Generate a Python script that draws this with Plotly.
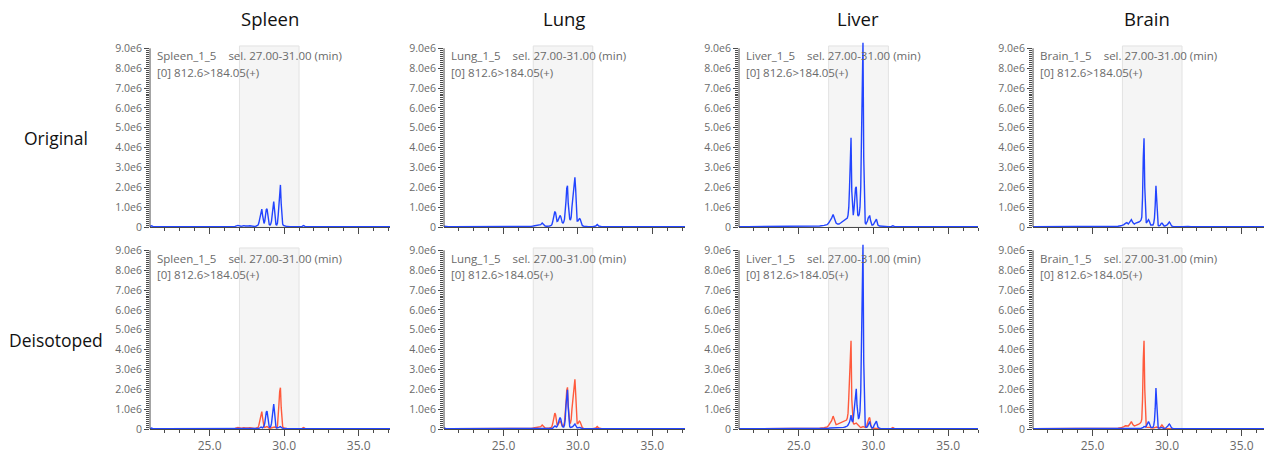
import plotly.graph_objects as go

# ---------------- data ----------------
tissues = ["Spleen", "Lung", "Liver", "Brain"]
row_labels = ["Original", "Deisotoped"]
sample_names = ["Spleen_1_5", "Lung_1_5", "Liver_1_5", "Brain_1_5"]
sel_text = "sel. 27.00-31.00 (min)"
mrm_text = "[0] 812.6>184.05(+)"
sel_window = [27.0, 31.0]

x_ticks = [25, 30, 35]
x_tick_labels = ["25.0", "30.0", "35.0"]
y_ticks = [0, 1, 2, 3, 4, 5, 6, 7, 8, 9]
y_tick_labels = ["0", "1.0e6", "2.0e6", "3.0e6", "4.0e6", "5.0e6", "6.0e6", "7.0e6", "8.0e6", "9.0e6"]

# retention time (min)
time = [21.0, 21.1, 21.2, 21.3, 21.6, 22.0, 23.0, 24.0, 25.0, 26.0,
        26.4, 26.7, 26.9, 27.0, 27.1, 27.2, 27.3, 27.4, 27.5, 27.6,
        27.7, 27.8, 27.9, 28.0, 28.1, 28.2, 28.25, 28.3, 28.35, 28.4,
        28.45, 28.5, 28.55, 28.6, 28.65, 28.7, 28.75, 28.8, 28.85, 28.9,
        28.95, 29.0, 29.05, 29.1, 29.15, 29.2, 29.25, 29.3, 29.35, 29.4,
        29.45, 29.5, 29.55, 29.6, 29.65, 29.7, 29.75, 29.8, 29.85, 29.9,
        29.95, 30.0, 30.05, 30.1, 30.15, 30.2, 30.25, 30.3, 30.4, 30.5,
        30.7, 31.0, 31.2, 31.3, 31.4, 31.6, 32.0, 33.0, 34.0, 35.0,
        36.0, 37.5]

# intensities in units of 1e6
spleen_original = [0.02, 0.06, 0.03, 0.02, 0.02, 0.02, 0.02, 0.02, 0.02, 0.02,
                   0.02, 0.03, 0.08, 0.04, 0.04, 0.05, 0.07, 0.05, 0.04, 0.05,
                   0.06, 0.04, 0.03, 0.03, 0.04, 0.06, 0.10, 0.20, 0.40, 0.65,
                   0.85, 0.90, 0.60, 0.30, 0.18, 0.30, 0.65, 0.88, 0.92, 0.60,
                   0.30, 0.12, 0.10, 0.15, 0.30, 0.70, 1.15, 1.28, 0.90, 0.35,
                   0.12, 0.10, 0.20, 0.60, 1.30, 1.95, 2.12, 1.20, 0.45, 0.15,
                   0.08, 0.06, 0.05, 0.04, 0.03, 0.03, 0.02, 0.02, 0.02, 0.02,
                   0.02, 0.02, 0.03, 0.07, 0.03, 0.02, 0.02, 0.02, 0.02, 0.02,
                   0.02, 0.02]
spleen_deiso_red = [0.01, 0.02, 0.01, 0.01, 0.01, 0.01, 0.01, 0.01, 0.01, 0.01,
                    0.01, 0.03, 0.08, 0.04, 0.04, 0.05, 0.07, 0.05, 0.04, 0.05,
                    0.06, 0.04, 0.03, 0.03, 0.04, 0.05, 0.08, 0.18, 0.38, 0.62,
                    0.83, 0.88, 0.58, 0.25, 0.10, 0.08, 0.10, 0.12, 0.12, 0.10,
                    0.06, 0.04, 0.04, 0.05, 0.06, 0.08, 0.10, 0.12, 0.10, 0.08,
                    0.05, 0.06, 0.15, 0.55, 1.25, 1.90, 2.08, 1.10, 0.40, 0.12,
                    0.07, 0.05, 0.04, 0.03, 0.02, 0.02, 0.02, 0.02, 0.01, 0.01,
                    0.01, 0.01, 0.03, 0.07, 0.03, 0.01, 0.01, 0.01, 0.01, 0.01,
                    0.01, 0.01]
spleen_deiso_blue = [0.01, 0.05, 0.02, 0.01, 0.01, 0.01, 0.01, 0.01, 0.01, 0.01,
                     0.01, 0.01, 0.01, 0.01, 0.01, 0.01, 0.01, 0.01, 0.01, 0.01,
                     0.01, 0.01, 0.01, 0.01, 0.01, 0.01, 0.02, 0.03, 0.05, 0.08,
                     0.10, 0.08, 0.06, 0.10, 0.15, 0.30, 0.62, 0.85, 0.90, 0.62,
                     0.30, 0.10, 0.08, 0.13, 0.28, 0.68, 1.12, 1.26, 0.88, 0.32,
                     0.10, 0.05, 0.05, 0.06, 0.08, 0.11, 0.12, 0.08, 0.05, 0.03,
                     0.02, 0.02, 0.03, 0.05, 0.03, 0.02, 0.01, 0.01, 0.01, 0.01,
                     0.01, 0.01, 0.01, 0.01, 0.01, 0.01, 0.01, 0.01, 0.01, 0.01,
                     0.01, 0.01]

lung_original = [0.04, 0.02, 0.01, 0.01, 0.01, 0.01, 0.01, 0.01, 0.01, 0.02,
                 0.02, 0.03, 0.04, 0.05, 0.06, 0.07, 0.10, 0.08, 0.12, 0.20,
                 0.12, 0.05, 0.04, 0.04, 0.05, 0.08, 0.12, 0.25, 0.50, 0.72,
                 0.78, 0.72, 0.45, 0.28, 0.30, 0.40, 0.50, 0.58, 0.52, 0.30,
                 0.22, 0.20, 0.25, 0.40, 0.70, 1.30, 1.95, 2.08, 1.20, 0.45,
                 0.40, 0.35, 0.50, 1.00, 1.50, 1.55, 2.10, 2.50, 1.90, 0.80,
                 0.30, 0.30, 0.38, 0.42, 0.40, 0.25, 0.12, 0.07, 0.04, 0.03,
                 0.02, 0.02, 0.05, 0.13, 0.05, 0.02, 0.01, 0.01, 0.01, 0.01,
                 0.01, 0.01]
lung_deiso_red = [0.02, 0.01, 0.01, 0.01, 0.01, 0.01, 0.01, 0.01, 0.01, 0.01,
                  0.02, 0.03, 0.04, 0.05, 0.06, 0.07, 0.10, 0.08, 0.12, 0.20,
                  0.12, 0.05, 0.04, 0.04, 0.05, 0.08, 0.12, 0.25, 0.50, 0.75,
                  0.80, 0.72, 0.42, 0.22, 0.20, 0.28, 0.35, 0.40, 0.35, 0.20,
                  0.15, 0.15, 0.20, 0.35, 0.70, 1.30, 1.95, 2.10, 1.20, 0.42,
                  0.30, 0.30, 0.48, 1.00, 1.50, 1.55, 2.05, 2.50, 1.80, 0.75,
                  0.28, 0.28, 0.36, 0.40, 0.36, 0.22, 0.10, 0.06, 0.03, 0.02,
                  0.02, 0.02, 0.05, 0.13, 0.05, 0.02, 0.01, 0.01, 0.01, 0.01,
                  0.01, 0.01]
lung_deiso_blue = [0.05, 0.02, 0.01, 0.01, 0.01, 0.01, 0.01, 0.01, 0.01, 0.01,
                   0.01, 0.01, 0.01, 0.01, 0.01, 0.01, 0.01, 0.01, 0.01, 0.01,
                   0.01, 0.01, 0.01, 0.01, 0.01, 0.01, 0.02, 0.04, 0.08, 0.12,
                   0.15, 0.14, 0.10, 0.12, 0.20, 0.35, 0.48, 0.58, 0.50, 0.28,
                   0.15, 0.10, 0.10, 0.20, 0.50, 1.20, 1.85, 1.98, 1.10, 0.35,
                   0.12, 0.08, 0.08, 0.10, 0.12, 0.15, 0.22, 0.25, 0.18, 0.10,
                   0.06, 0.06, 0.08, 0.10, 0.08, 0.05, 0.03, 0.02, 0.01, 0.01,
                   0.01, 0.01, 0.01, 0.01, 0.01, 0.01, 0.01, 0.01, 0.01, 0.01,
                   0.01, 0.01]

liver_original = [0.02, 0.03, 0.02, 0.02, 0.02, 0.02, 0.02, 0.02, 0.03, 0.04,
                  0.05, 0.08, 0.12, 0.20, 0.30, 0.45, 0.63, 0.40, 0.20, 0.15,
                  0.15, 0.20, 0.25, 0.30, 0.35, 0.40, 0.45, 0.60, 1.00, 2.00,
                  3.60, 4.50, 1.80, 0.65, 0.60, 0.90, 1.50, 1.95, 2.03, 1.20,
                  0.60, 0.55, 0.65, 1.00, 2.00, 4.50, 8.00, 9.30, 3.50, 0.60,
                  0.20, 0.15, 0.20, 0.30, 0.45, 0.55, 0.58, 0.35, 0.15, 0.10,
                  0.10, 0.12, 0.20, 0.30, 0.38, 0.40, 0.25, 0.10, 0.05, 0.04,
                  0.03, 0.02, 0.03, 0.06, 0.03, 0.02, 0.01, 0.01, 0.01, 0.01,
                  0.01, 0.01]
liver_deiso_red = [0.01, 0.02, 0.01, 0.01, 0.01, 0.01, 0.01, 0.01, 0.02, 0.03,
                   0.04, 0.07, 0.10, 0.18, 0.28, 0.42, 0.65, 0.40, 0.22, 0.25,
                   0.28, 0.30, 0.32, 0.35, 0.40, 0.45, 0.55, 0.80, 1.60, 3.00,
                   4.00, 4.45, 1.50, 0.40, 0.30, 0.25, 0.25, 0.28, 0.30, 0.25,
                   0.20, 0.15, 0.12, 0.10, 0.08, 0.08, 0.10, 0.12, 0.10, 0.08,
                   0.08, 0.10, 0.15, 0.30, 0.45, 0.55, 0.58, 0.30, 0.10, 0.05,
                   0.04, 0.03, 0.03, 0.03, 0.03, 0.03, 0.02, 0.02, 0.02, 0.02,
                   0.02, 0.02, 0.03, 0.07, 0.03, 0.02, 0.01, 0.01, 0.01, 0.01,
                   0.01, 0.01]
liver_deiso_blue = [0.01, 0.01, 0.01, 0.01, 0.01, 0.01, 0.01, 0.01, 0.01, 0.01,
                    0.01, 0.02, 0.03, 0.04, 0.05, 0.05, 0.06, 0.05, 0.05, 0.05,
                    0.05, 0.06, 0.07, 0.08, 0.10, 0.12, 0.15, 0.20, 0.25, 0.35,
                    0.50, 0.70, 0.45, 0.35, 0.50, 0.90, 1.50, 1.95, 2.03, 1.20,
                    0.60, 0.50, 0.60, 0.90, 1.90, 4.40, 7.80, 9.30, 3.40, 0.55,
                    0.15, 0.08, 0.08, 0.12, 0.20, 0.32, 0.38, 0.20, 0.08, 0.05,
                    0.06, 0.10, 0.20, 0.30, 0.38, 0.40, 0.25, 0.10, 0.04, 0.02,
                    0.02, 0.01, 0.01, 0.01, 0.01, 0.01, 0.01, 0.01, 0.01, 0.01,
                    0.01, 0.01]

brain_original = [0.02, 0.02, 0.01, 0.01, 0.01, 0.01, 0.01, 0.01, 0.02, 0.02,
                  0.03, 0.04, 0.06, 0.08, 0.12, 0.18, 0.22, 0.15, 0.25, 0.37,
                  0.22, 0.15, 0.20, 0.22, 0.25, 0.30, 0.35, 0.50, 1.50, 3.50,
                  4.47, 2.00, 0.30, 0.20, 0.25, 0.32, 0.37, 0.30, 0.15, 0.10,
                  0.10, 0.08, 0.10, 0.20, 0.45, 1.10, 2.08, 1.40, 0.35, 0.08,
                  0.05, 0.06, 0.10, 0.18, 0.20, 0.15, 0.08, 0.05, 0.05, 0.06,
                  0.08, 0.10, 0.15, 0.22, 0.25, 0.20, 0.10, 0.05, 0.03, 0.02,
                  0.02, 0.02, 0.03, 0.05, 0.03, 0.02, 0.01, 0.01, 0.01, 0.01,
                  0.01, 0.01]
brain_deiso_red = [0.01, 0.01, 0.01, 0.01, 0.01, 0.01, 0.01, 0.01, 0.01, 0.02,
                   0.03, 0.04, 0.06, 0.08, 0.12, 0.16, 0.15, 0.15, 0.25, 0.37,
                   0.22, 0.15, 0.18, 0.20, 0.25, 0.30, 0.35, 0.50, 1.50, 3.50,
                   4.45, 2.00, 0.25, 0.10, 0.08, 0.08, 0.10, 0.10, 0.08, 0.06,
                   0.05, 0.05, 0.05, 0.06, 0.08, 0.10, 0.12, 0.10, 0.08, 0.06,
                   0.05, 0.06, 0.10, 0.16, 0.20, 0.15, 0.08, 0.05, 0.03, 0.02,
                   0.02, 0.02, 0.02, 0.02, 0.02, 0.02, 0.02, 0.02, 0.02, 0.02,
                   0.02, 0.02, 0.03, 0.05, 0.03, 0.02, 0.01, 0.01, 0.01, 0.01,
                   0.01, 0.01]
brain_deiso_blue = [0.01, 0.01, 0.01, 0.01, 0.01, 0.01, 0.01, 0.01, 0.01, 0.01,
                    0.01, 0.01, 0.01, 0.01, 0.01, 0.01, 0.02, 0.02, 0.02, 0.02,
                    0.02, 0.02, 0.02, 0.02, 0.03, 0.03, 0.04, 0.05, 0.06, 0.08,
                    0.12, 0.10, 0.10, 0.15, 0.25, 0.32, 0.37, 0.30, 0.15, 0.10,
                    0.08, 0.06, 0.08, 0.18, 0.42, 1.05, 2.06, 1.35, 0.30, 0.06,
                    0.04, 0.04, 0.06, 0.08, 0.08, 0.06, 0.04, 0.03, 0.03, 0.05,
                    0.08, 0.10, 0.15, 0.22, 0.25, 0.20, 0.10, 0.05, 0.03, 0.02,
                    0.01, 0.01, 0.01, 0.01, 0.01, 0.01, 0.01, 0.01, 0.01, 0.01,
                    0.01, 0.01]

original_series = [spleen_original, lung_original, liver_original, brain_original]
deiso_red_series = [spleen_deiso_red, lung_deiso_red, liver_deiso_red, brain_deiso_red]
deiso_blue_series = [spleen_deiso_blue, lung_deiso_blue, liver_deiso_blue, brain_deiso_blue]

for s in original_series + deiso_red_series + deiso_blue_series:
    assert len(s) == len(time), len(s)

# ---------------- styling / layout ----------------
W, H = 1264, 454
BLUE = "#2244ff"
RED = "#ff5a3c"
AXIS = "#4a4a4a"
TXT = "#6a6a6a"
FONT = "Open Sans"

col_px = [(150, 390), (444, 685), (739, 978), (1033, 1264)]
x_ranges = [[21, 37.1], [21, 37.2], [21, 37.0], [21, 36.5]]
row_zero_px = [227, 429]
px_per_unit = 19.85
y_top = 9.3

fig = go.Figure()
layout = {}
shapes = []
annotations = []

minor_y = [round(v * 0.1, 1) for v in range(1, 90) if v % 10 != 0]
minor_x = [22, 23, 24, 26, 27, 28, 29, 31, 32, 33, 34, 36, 37]

for r in range(2):
    y0_px = row_zero_px[r]
    ytop_px = y0_px - y_top * px_per_unit
    ydom = [(H - y0_px) / H, (H - ytop_px) / H]
    for c in range(4):
        i = r * 4 + c + 1
        xa = "x" if i == 1 else f"x{i}"
        ya = "y" if i == 1 else f"y{i}"
        xname = "xaxis" if i == 1 else f"xaxis{i}"
        yname = "yaxis" if i == 1 else f"yaxis{i}"
        xdom = [col_px[c][0] / W, min(col_px[c][1] / W, 1.0)]

        if r == 0:
            fig.add_trace(go.Scatter(x=time, y=original_series[c], mode="lines",
                                     line=dict(color=BLUE, width=1.4),
                                     xaxis=xa, yaxis=ya, showlegend=False, hoverinfo="skip"))
        else:
            fig.add_trace(go.Scatter(x=time, y=deiso_red_series[c], mode="lines",
                                     line=dict(color=RED, width=1.4),
                                     xaxis=xa, yaxis=ya, showlegend=False, hoverinfo="skip"))
            fig.add_trace(go.Scatter(x=time, y=deiso_blue_series[c], mode="lines",
                                     line=dict(color=BLUE, width=1.4),
                                     xaxis=xa, yaxis=ya, showlegend=False, hoverinfo="skip"))

        layout[xname] = dict(
            domain=xdom, range=x_ranges[c], anchor=ya, automargin=False,
            showgrid=False, zeroline=False, showline=True, linecolor=AXIS, linewidth=1,
            tickmode="array", tickvals=x_ticks,
            ticktext=x_tick_labels if r == 1 else ["", "", ""],
            ticks="outside", ticklen=6, tickcolor=AXIS, tickwidth=1,
            tickfont=dict(family=FONT, size=12, color=TXT),
            minor=dict(tickmode="array", tickvals=minor_x, ticks="outside",
                       ticklen=3, tickcolor=AXIS, tickwidth=1, showgrid=False),
            fixedrange=True,
        )
        layout[yname] = dict(
            domain=ydom, range=[0, y_top], anchor=xa, automargin=False,
            showgrid=False, zeroline=False, showline=False,
            tickmode="array", tickvals=y_ticks, ticktext=y_tick_labels,
            ticks="outside", ticklen=5, tickcolor=AXIS, tickwidth=1,
            tickfont=dict(family=FONT, size=10.5, color=TXT),
            minor=dict(tickmode="array", tickvals=minor_y, ticks="outside",
                       ticklen=3, tickcolor=AXIS, tickwidth=1, showgrid=False),
            fixedrange=True,
        )
        # selection window band
        shapes.append(dict(type="rect", xref=xa, yref=ya,
                           x0=sel_window[0], x1=sel_window[1], y0=0, y1=9.12,
                           fillcolor="#f5f5f5", line=dict(color="#e2e2e2", width=1),
                           layer="below"))
        # y axis line (0 .. 9.0e6)
        shapes.append(dict(type="line", xref=f"{xa} domain", yref=ya,
                           x0=0, x1=0, y0=0, y1=9,
                           line=dict(color=AXIS, width=1), layer="above"))
        # panel texts
        annotations.append(dict(
            xref="paper", yref="paper", x=(col_px[c][0] + 5) / W,
            y=(H - (y0_px - 171)) / H, xanchor="left", yanchor="middle",
            text=sample_names[c] + "\u00a0" * 4 + sel_text, showarrow=False,
            font=dict(family=FONT, size=11.5, color=TXT)))
        annotations.append(dict(
            xref="paper", yref="paper", x=(col_px[c][0] + 5) / W,
            y=(H - (y0_px - 154.5)) / H, xanchor="left", yanchor="middle",
            text=mrm_text, showarrow=False,
            font=dict(family=FONT, size=11.5, color=TXT)))

title_x = [270, 564, 858, 1147]
for c in range(4):
    annotations.append(dict(xref="paper", yref="paper", x=title_x[c] / W, y=(H - 19) / H,
                            xanchor="center", yanchor="middle", text=tissues[c],
                            showarrow=False, font=dict(family=FONT, size=18.5, color="#111111")))
row_label_y = [138, 340]
for r in range(2):
    annotations.append(dict(xref="paper", yref="paper", x=56 / W, y=(H - row_label_y[r]) / H,
                            xanchor="center", yanchor="middle", text=row_labels[r],
                            showarrow=False, font=dict(family=FONT, size=17.5, color="#111111")))

fig.update_layout(
    width=W, height=H, margin=dict(l=0, r=0, t=0, b=0, autoexpand=False),
    paper_bgcolor="white", plot_bgcolor="white",
    shapes=shapes, annotations=annotations, showlegend=False,
    **layout,
)

fig.write_html("out.html", config={"displayModeBar": False})
